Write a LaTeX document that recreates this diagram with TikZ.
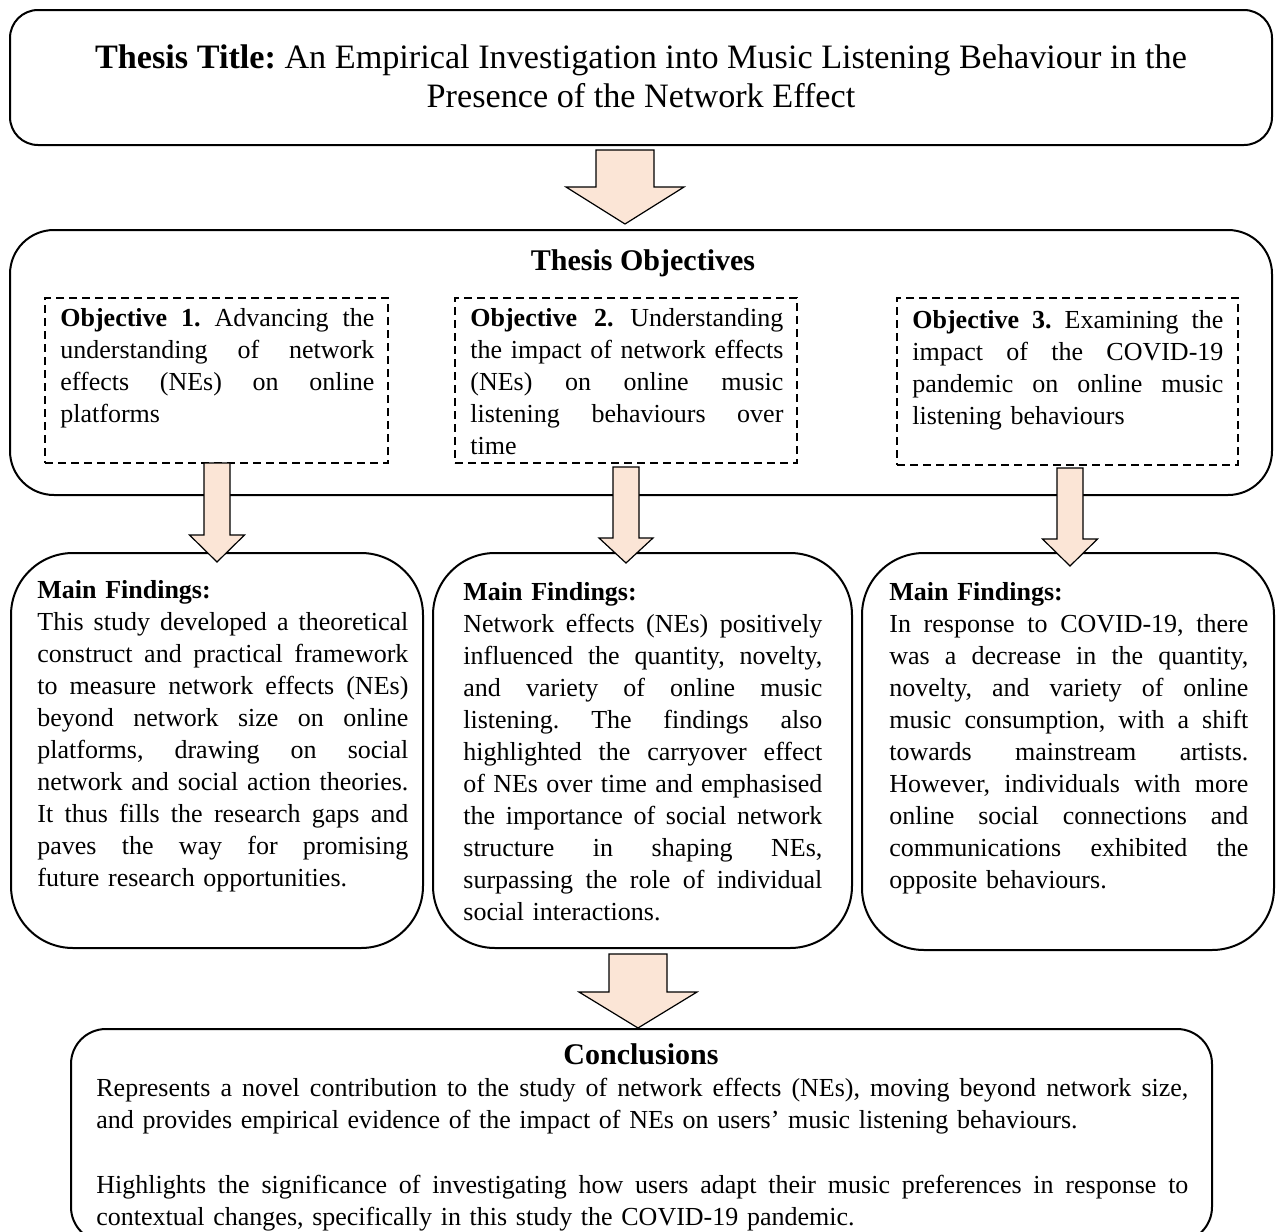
\documentclass[tikz,border=0pt]{standalone}
\usepackage{fontspec}
\setmainfont{Liberation Serif}
\definecolor{peach}{RGB}{251,229,214}
\newcommand\BArrow[6]{% cx, top, headY, tip, shafthalf, headhalf
  \draw[barrow] (#1-#5,#2) -- (#1+#5,#2) -- (#1+#5,#3) -- (#1+#6,#3) -- (#1,#4) -- (#1-#6,#3) -- (#1-#5,#3) -- cycle;}
\newcommand\jl[1]{\leavevmode\hbox to\hsize{\spaceskip=.25em plus 3em minus .05em\xspaceskip=.25em plus 3em minus .05em\relax #1}\\}
\begin{document}
\begin{tikzpicture}[x=0.5pt,y=-0.5pt,
  bigbox/.style={draw, line width=1pt, inner sep=0pt},
  dashbox/.style={draw, line width=0.7pt, dash pattern=on 4pt off 2.5pt, inner sep=0pt},
  barrow/.style={draw, fill=peach, line width=0.6pt, line join=miter},
  body/.style={inner sep=0pt, anchor=base west, align=left, font=\fontsize{13}{16}\selectfont\frenchspacing},
  head/.style={inner sep=0pt, anchor=base, font=\fontsize{15}{18}\selectfont\bfseries}]
\useasboundingbox (0,0) rectangle (1276,1232);
\fill[white] (0,0) rectangle (1276,1232);
\clip (0,0) rectangle (1276,1232);

% boxes
\node[bigbox, rounded corners=14pt, minimum width=631pt, minimum height=67.5pt] (titlebox) at (641,77.5) {};
\node[bigbox, rounded corners=22pt, minimum width=631pt, minimum height=132.5pt] (objbox) at (641,362.5) {};
\node[dashbox, minimum width=171.5pt, minimum height=82.5pt] (d1) at (216.5,380.5) {};
\node[dashbox, minimum width=171pt, minimum height=82.5pt] (d2) at (626,380.5) {};
\node[dashbox, minimum width=170.5pt, minimum height=83.5pt] (d3) at (1067.5,381.5) {};
\node[bigbox, rounded corners=31pt, minimum width=206pt, minimum height=197.5pt] (f1) at (217,750.5) {};
\node[bigbox, rounded corners=31pt, minimum width=209.5pt, minimum height=197.5pt] (f2) at (642.5,750.5) {};
\node[bigbox, rounded corners=31pt, minimum width=206pt, minimum height=198.5pt] (f3) at (1068,751.5) {};
\node[bigbox, rounded corners=17.5pt, minimum width=570.5pt, minimum height=106.5pt] (concl) at (641.5,1135.5) {};

% arrows
\BArrow{625}{150}{187}{224}{29}{59}
\BArrow{217}{463}{535}{562}{13}{27.5}
\BArrow{626}{467}{538}{563}{13}{27}
\BArrow{1070}{468}{539}{566}{13}{27.5}
\BArrow{638}{954}{992}{1028}{29}{59}

% texts
\node[inner sep=0pt, anchor=base, align=center, font=\fontsize{17.1}{19.5}\selectfont\frenchspacing] (ttl) at (641,107)
  {\textbf{Thesis Title:} An Empirical Investigation into Music Listening Behaviour in the\\Presence of the Network Effect};
\node[head] (objh) at (643,270) {Thesis Objectives};

\node[body, text width=157pt] (o1) at (60,326) {%
\jl{\textbf{Objective 1.} Advancing the}
\jl{understanding of network}
\jl{effects (NEs) on online}
platforms};
\node[body, text width=156.5pt] (o2) at (470,326) {%
\jl{\textbf{Objective 2.} Understanding}
\jl{the impact of network effects}
\jl{(NEs) on online music}
\jl{listening behaviours over}
time};
\node[body, text width=155.5pt] (o3) at (912,328) {%
\jl{\textbf{Objective 3.} Examining the}
\jl{impact of the COVID-19}
\jl{pandemic on online music}
listening behaviours};

\node[body, text width=185.5pt] (t1) at (37,598) {%
\textbf{Main Findings:}\\
\jl{This study developed a theoretical}
\jl{construct and practical framework}
\jl{to measure network effects (NEs)}
\jl{beyond network size on online}
\jl{platforms, drawing on social}
\jl{network and social action theories.}
\jl{It thus fills the research gaps and}
\jl{paves the way for promising}
future research opportunities.};
\node[body, text width=179.5pt] (t2) at (463,600) {%
\textbf{Main Findings:}\\
\jl{Network effects (NEs) positively}
\jl{influenced the quantity, novelty,}
\jl{and variety of online music}
\jl{listening. The findings also}
\jl{highlighted the carryover effect}
\jl{of NEs over time and emphasised}
\jl{the importance of social network}
\jl{structure in shaping NEs,}
\jl{surpassing the role of individual}
social interactions.};
\node[body, text width=179.5pt] (t3) at (889,600) {%
\textbf{Main Findings:}\\
\jl{In response to COVID-19, there}
\jl{was a decrease in the quantity,}
\jl{novelty, and variety of online}
\jl{music consumption, with a shift}
\jl{towards mainstream artists.}
\jl{However, individuals with more}
\jl{online social connections and}
\jl{communications exhibited the}
opposite behaviours.};

\node[head] (ch) at (641,1064) {Conclusions};
\node[body, text width=546pt] (c1) at (96,1096) {%
\jl{Represents a novel contribution to the study of network effects (NEs), moving beyond network size,}
and provides empirical evidence of the impact of NEs on users' music listening behaviours.\\[16.5pt]
\jl{Highlights the significance of investigating how users adapt their music preferences in response to}
contextual changes, specifically in this study the COVID-19 pandemic.};
\end{tikzpicture}
\end{document}
